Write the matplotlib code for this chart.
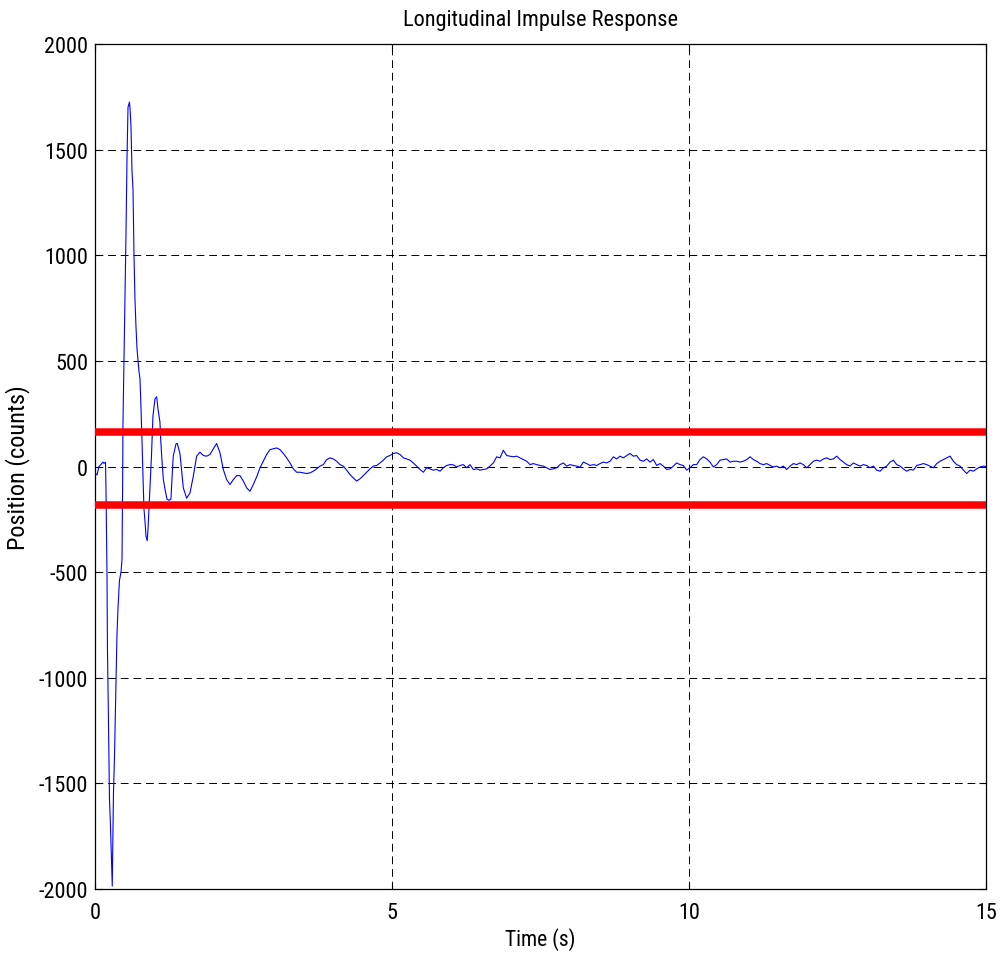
import matplotlib
matplotlib.use("Agg")
import matplotlib.pyplot as plt
import numpy as np

plt.rcParams['font.family'] = ['Roboto Condensed', 'Liberation Sans', 'DejaVu Sans']

# Transient part of the measured position response: time (s) and counts
transient_time = [
    0.000, 0.034, 0.067, 0.101, 0.135, 0.152, 0.177, 0.185, 0.202, 0.210,
    0.227, 0.244, 0.261, 0.278, 0.291, 0.303, 0.311, 0.328, 0.354, 0.370,
    0.387, 0.412, 0.438, 0.455, 0.466, 0.471, 0.488, 0.505, 0.522, 0.539,
    0.556, 0.581, 0.589, 0.606, 0.623, 0.640, 0.657, 0.673, 0.690, 0.707,
    0.741, 0.758, 0.774, 0.791, 0.808, 0.825, 0.842, 0.859, 0.880, 0.892,
    0.909, 0.926, 0.951, 0.976, 1.010, 1.039, 1.061, 1.094, 1.106, 1.123,
    1.150, 1.178, 1.212, 1.246, 1.279, 1.296, 1.318, 1.364, 1.386,
]
transient_counts = [
    -30, -40, 0, 10, 21, 15, 20, -100, -500, -864,
    -1200, -1574, -1700, -1870, -1986, -1700, -1550, -1380, -1006, -800,
    -675, -540, -500, -440, -60, 200, 500, 778, 1100, 1456,
    1700, 1725, 1700, 1613, 1400, 1314, 1000, 793, 665, 560,
    450, 414, 286, 130, -45, -200, -260, -330, -351, -300,
    -200, -106, 50, 239, 320, 330, 272, 210, 130, 50,
    -59, -106, -154, -160, -154, -59, 50, 107, 110,
]

# Settling part, sampled at a fixed interval from tail_start (s)
tail_start = 1.431
tail_step = 0.05612
tail_counts = [
    60, -101, -150, -125, -46, 49, 68, 52, 49, 57,
    84, 109, 65, -14, -62, -85, -62, -43, -43, -69,
    -101, -117, -85, -49, -6, 25, 57, 80, 84, 88,
    80, 62, 41, 17, -11, -27, -27, -30, -33, -30,
    -22, -11, 2, 9, 33, 41, 36, 25, 9, 2,
    -17, -38, -54, -69,
    -58, -43, -27, -11, 2, 5, 17, 30, 46, 52,
    62, 65, 57, 41, 36, 30, 17, 2, -14, -27,
    -6, -11, -17, -14, -22, -6, 5, 9, 8, -2,
    5, 9, -6, 9, -14, -11, -17, -14, -11, 2,
    17, 46, 41, 77, 52, 49, 46, 49, 41, 33,
    25, 9, 14, 9,
    5, 2, -6, -14, -11, -6, 9, 17, 2, 9,
    5, 2, -3, 21, 14, 5, 9, 5, 14, 21,
    17, 25, 46, 36, 49, 41, 52, 62, 49, 52,
    30, 25, 36, 21, 33, 5, 14, 2, -14, -11,
    2, 17, 9, 5, -17, -6, 9, 9, 33, 46,
    36, 21, -2, 9,
    30, 33, 36, 21, 25, 25, 21, 25, 33, 46,
    33, 25, 14, 9, 14, 5, -2, 2, -6, 2,
    -14, 2, 14, 9, 17, 9, -6, 9, 25, 30,
    25, 36, 41, 33, 36, 49, 33, 21, 9, 2,
    17, 9, 2, 9, 5, -6, 2, -17, -22, -6,
    2, 21, 30, 9,
    2, -11, -22, -14, -17, 5, 9, 14, 9, 2,
    -6, 14, 25, 33, 41, 49, 25, 9, 2, -17,
    -33, -17, -22, -11, -2, 2,
]
end_time = 15.0
end_count = 0

# Settling band limits (counts)
band_upper = 165
band_lower = -180

x_ticks = [0, 5, 10, 15]
y_ticks = [-2000, -1500, -1000, -500, 0, 500, 1000, 1500, 2000]

tail_time = tail_start + tail_step * np.arange(len(tail_counts))
time_s = np.concatenate([transient_time, tail_time, [end_time]])
position_counts = np.concatenate([transient_counts, tail_counts, [end_count]])

fig = plt.figure(figsize=(10.05, 9.62), dpi=100)
ax = fig.add_axes([0.0945, 0.0748, 0.8866, 0.8784])

ax.plot(time_s, position_counts, color='#0000ff', lw=0.8, zorder=3)
ax.axhline(band_upper, color='#ff0000', lw=5.4, zorder=4)
ax.axhline(band_lower, color='#ff0000', lw=5.4, zorder=4)

ax.set_xlim(0, 15)
ax.set_ylim(-2000, 2000)
ax.set_xticks(x_ticks)
ax.set_yticks(y_ticks)
ax.set_xticklabels([str(v) for v in x_ticks])
ax.set_yticklabels([str(v) for v in y_ticks])

ax.grid(True, color='black', lw=0.7, linestyle=(0, (8, 5)), zorder=1)
ax.tick_params(direction='in', length=5, width=0.8, top=True, right=True,
               labelsize=16, colors='black')
ax.tick_params(axis='x', pad=9)
ax.tick_params(axis='y', pad=5)
for s in ax.spines.values():
    s.set_linewidth(0.9)
    s.set_color('black')

ax.set_title('Longitudinal Impulse Response', fontsize=16, pad=14)
ax.set_xlabel('Time (s)', fontsize=15.5, labelpad=3)
ax.set_ylabel('Position (counts)', fontsize=17.5, labelpad=6)

fig.savefig('out.png', dpi=100, facecolor='white')
